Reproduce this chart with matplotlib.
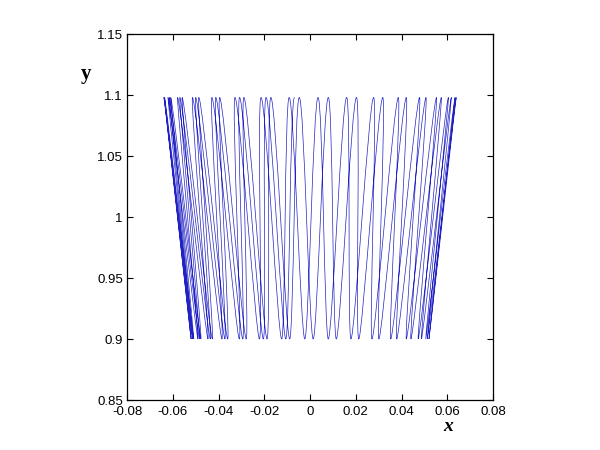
# %% Libraries
# --+ core libraries
import matplotlib
matplotlib.use("Agg")
import matplotlib.pyplot as plt
from matplotlib.path import Path
from matplotlib.patches import PathPatch

# %% Data
# --+ turning points of the trajectory (traversal order)
# --+ x at the top turning points (y ~ 1.098)
top_x = [-0.0639, -0.0621, -0.0579, -0.0514, -0.0429, -0.0328, -0.0214, -0.0091,
         0.0035, 0.0160, 0.0278, 0.0386, 0.0479, 0.0553, 0.0605, 0.0634,
         0.0639, 0.0618, 0.0574, 0.0507, 0.0421, 0.0318, 0.0203, 0.0080,
         -0.0047, -0.0171, -0.0289, -0.0395, -0.0486, -0.0559, -0.0609, -0.0636,
         -0.0638, -0.0615, -0.0569, -0.0500, -0.0412, -0.0308, -0.0192, -0.0068]
# --+ x at the bottom turning points (y ~ 0.9)
bottom_x = [-0.0515, -0.0490, -0.0446, -0.0385, -0.0309, -0.0221, -0.0124, -0.0023,
            0.0080, 0.0179, 0.0271, 0.0353, 0.0421, 0.0473, 0.0506, 0.0520,
            0.0513, 0.0487, 0.0441, 0.0379, 0.0301, 0.0213, 0.0115, 0.0014,
            -0.0089, -0.0188, -0.0279, -0.0360, -0.0427, -0.0477, -0.0508, -0.0520,
            -0.0512, -0.0483, -0.0436, -0.0372, -0.0294, -0.0204, -0.0106]
y_top = 1.098
y_bottom = 0.9
# --+ axis ticks
x_ticks = [-0.08, -0.06, -0.04, -0.02, 0, 0.02, 0.04, 0.06, 0.08]
x_tick_labels = ['-0.08', '-0.06', '-0.04', '-0.02', '0', '0.02', '0.04', '0.06', '0.08']
y_ticks = [0.85, 0.9, 0.95, 1, 1.05, 1.1, 1.15]
y_tick_labels = ['0.85', '0.9', '0.95', '1', '1.05', '1.1', '1.15']

# %% Path
# --+ alternate top / bottom turning points
points = []
for i, xt in enumerate(top_x):
	points.append((xt, y_top))
	if i < len(bottom_x):
		points.append((bottom_x[i], y_bottom))
# --+ rounded turns: flat tangent at each turning point, sides follow x ~ y
verts = [points[0]]
codes = [Path.MOVETO]
for (x0, y0), (x1, y1) in zip(points[:-1], points[1:]):
	ds = x1 / y1 - x0 / y0
	verts += [(x0 + ds * y0 / 3, y0), (x1 - ds * y1 / 3, y1), (x1, y1)]
	codes += [Path.CURVE4] * 3
path = Path(verts, codes)

# %% Plot
# --+ figure
fig = plt.figure(figsize=(6, 4.5), dpi=100)
ax = fig.add_axes([0.2117, 0.1111, 0.61, 0.8133])
# --+ trajectory
ax.add_patch(PathPatch(path, facecolor='none', edgecolor='#2222c4', lw=0.5))
# --+ axis
ax.set_xlim(-0.08, 0.08)
ax.set_ylim(0.85, 1.15)
ax.set_xticks(x_ticks)
ax.set_xticklabels(x_tick_labels)
ax.set_yticks(y_ticks)
ax.set_yticklabels(y_tick_labels)
ax.tick_params(direction='in', length=4.5, width=0.8, top=True, right=True,
	labelsize=9.5)
ax.tick_params(axis='x', pad=4)
ax.tick_params(axis='y', pad=3)
for label in ax.get_xticklabels() + ax.get_yticklabels():
	label.set_family('Liberation Sans')
for spine in ax.spines.values():
	spine.set_linewidth(0.9)
# --+ labels
ax.text(0.877, -0.072, 'x', transform=ax.transAxes, ha='center', va='center',
	family='Liberation Serif', fontweight='bold', style='italic', fontsize=14)
ax.text(-0.113, 0.89, 'y', transform=ax.transAxes, ha='center', va='center',
	family='Liberation Serif', fontweight='bold', fontsize=15)
# --+ save
fig.savefig('out.png', dpi=100)
